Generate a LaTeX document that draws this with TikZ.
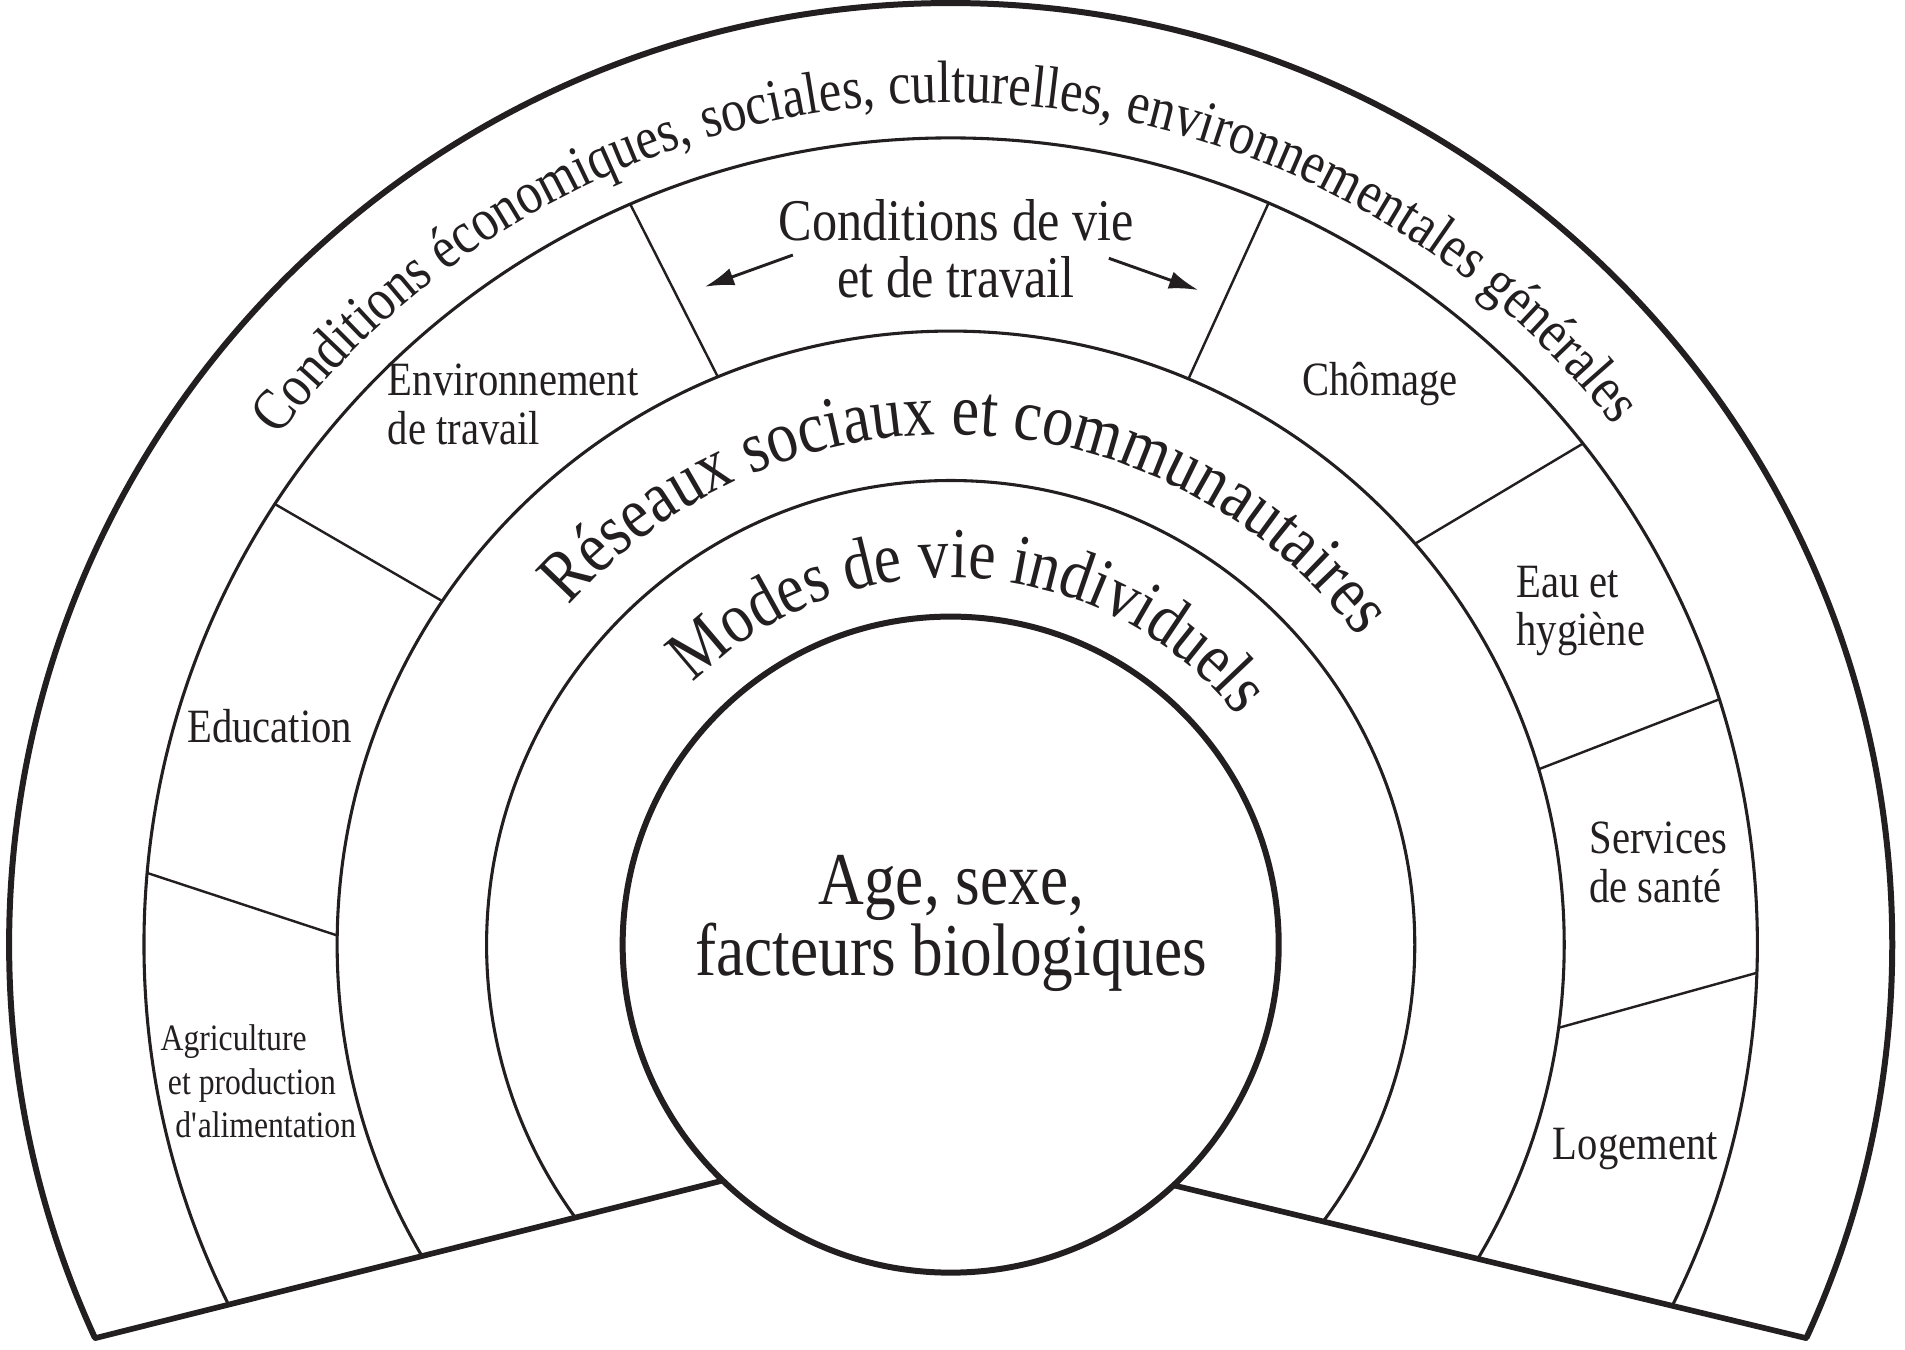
\documentclass[tikz,border=0pt]{standalone}
\usepackage{fontspec}
\setmainfont{Liberation Serif}[FakeStretch=0.85]
\usepackage{tikz}
\usetikzlibrary{arrows.meta,decorations.text}
\definecolor{ink}{RGB}{35,31,32}

\begin{document}
\begin{tikzpicture}[x=0.75pt,y=0.75pt,yscale=-1,xscale=1,
  rim/.style={line width=3.7pt,color=ink},
  ring/.style={line width=1.9pt,color=ink},
  spoke/.style={line width=1.5pt,color=ink},
  lbl/.style={inner sep=0.75pt,text=ink,font=\fontsize{29.5}{30}\selectfont},
  pointer/.style={line width=1.8pt,color=ink,-{Latex[length=18pt,width=11pt]}}]
\useasboundingbox (0,0) rectangle (1568,1111);

%Shape: Arcs (clipped by the two bottom lines)
\begin{scope}
\clip (-50,1133.7) -- (769,928) -- (1620,1133.6) -- (1620,-50) -- (-50,-50) -- cycle;
\draw [ring] (782.5,777.5) circle (382);
\draw [ring] (782.5,777.5) circle (505);
\draw [ring] (782.5,777.5) circle (664);
\draw [rim] (782.5,777.5) circle (775);
\end{scope}

%Straight Lines
\draw [line width=3.5pt,color=ink,line cap=round] (594.9,971.7) -- (78.4,1101.4);
\draw [line width=3.5pt,color=ink,line cap=round] (965.9,975.6) -- (1486.6,1101.4);

%Shape: Circle
\draw [rim,fill=white] (782.5,777.5) circle (270);

%Straight Lines (dividers of the living conditions ring)
\draw [spoke] (518.8,168.1) -- (590.9,310.3);
\draw [spoke] (226.3,414.9) -- (364.1,494.8);
\draw [spoke] (121.1,718.5) -- (277.6,770.0);
\draw [spoke] (1044.1,167.2) -- (978.2,311.9);
\draw [spoke] (1302.9,365.1) -- (1164.8,447.5);
\draw [spoke] (1415.1,575.6) -- (1266.4,633.2);
\draw [spoke] (1446.1,800.7) -- (1282.8,846.0);

% Curved Text
\path [decorate,decoration={text along path,text align=center,text color=ink,
  text={|\fontsize{36.9}{40}\selectfont|Conditions économiques, sociales, culturelles, environnementales générales}}]
  (782.5,777.5) ++(189.5:693) arc [start angle=189.5,end angle=349.5,radius=693];
% Curved Text
\path [decorate,decoration={text along path,text align=center,text color=ink,
  text={|\fontsize{45.2}{48}\selectfont|Réseaux sociaux et communautaires}}]
  (782.5,777.5) ++(192.3:420) arc [start angle=192.3,end angle=352.3,radius=420];
% Curved Text
\path [decorate,decoration={text along path,text align=center,text color=ink,
  text={|\fontsize{44.3}{48}\selectfont|Modes de vie individuels}}]
  (782.5,777.5) ++(193.5:302) arc [start angle=193.5,end angle=353.5,radius=302];

% Text Node
\draw (783,760) node (age) [inner sep=0.75pt,text=ink,font=\fontsize{46}{44}\selectfont] [align=center] {Age, sexe,\\facteurs biologiques};
% Text Node
\draw (787,205) node (cdv) [inner sep=0.75pt,text=ink,font=\fontsize{36.5}{35}\selectfont] [align=center] {Conditions de vie\\et de travail};
% Text Node
\draw (318,333) node (envtrav) [lbl,anchor=west] [align=left] {Environnement\\de travail};
% Text Node
\draw (222,598) node (edu) [lbl] [align=left] {Education};
% Text Node
\draw (131,890) node (agri) [inner sep=0.75pt,text=ink,font=\fontsize{23}{26.6}\selectfont,anchor=west] [align=left] {Agriculture\\\hspace*{4.5pt}et production\\\hspace*{9pt}d\textquotesingle alimentation};
% Text Node
\draw (1136,316) node (chom) [lbl] [align=left] {Chômage};
% Text Node
\draw (1247,503) node (eau) [lbl,anchor=west] [align=left] {Eau et\\hygiène};
% Text Node
\draw (1307,710) node (serv) [lbl,anchor=west] [align=left] {Services\\de santé};
% Text Node
\draw (1346,946) node (loge) [lbl] [align=left] {Logement};

% Arrows
\coordinate (arrL1) at (652.6,209.9);
\coordinate (arrL2) at (580.2,236);
\coordinate (arrR1) at (912.7,212.6);
\coordinate (arrR2) at (986.2,238.7);
\draw [pointer] (arrL1) -- (arrL2);
\draw [pointer] (arrR1) -- (arrR2);
\end{tikzpicture}
\end{document}
